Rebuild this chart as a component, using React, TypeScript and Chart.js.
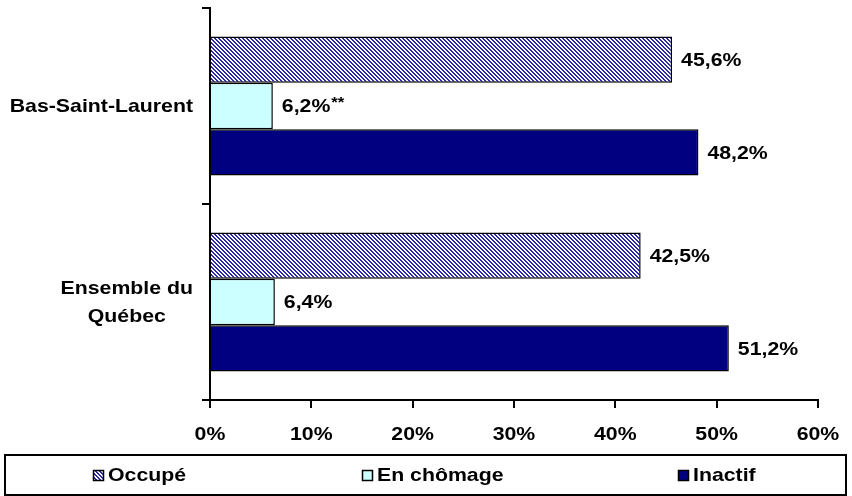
import React, { useEffect, useRef } from "react";
import { Chart, registerables } from "chart.js";

Chart.register(...registerables);

// ---- data ----
const categoryLines: string[][] = [["Bas-Saint-Laurent"], ["Ensemble du", "Québec"]];
const categories = ["Bas-Saint-Laurent", "Ensemble du Québec"];
const seriesNames = ["Occupé", "En chômage", "Inactif"];
const occupe = [45.6, 42.5];
const chomage = [6.2, 6.4];
const inactif = [48.2, 51.2];
const chomageNotes = ["**", ""];
const xTickValues = [0, 10, 20, 30, 40, 50, 60];

const FONT_FAMILY = '"Liberation Sans", Arial, sans-serif';
const SX = 1.12;

function makePattern(): CanvasPattern | string {
  const c = document.createElement("canvas");
  c.width = 4;
  c.height = 4;
  const g = c.getContext("2d");
  if (!g) return "#5555bb";
  g.fillStyle = "#ffffff";
  g.fillRect(0, 0, 4, 4);
  g.fillStyle = "#2a2aa8";
  for (let y = 0; y < 4; y++) {
    for (let x = 0; x < 4; x++) {
      if ((x - y + 8) % 4 < 2) g.fillRect(x, y, 1, 1);
    }
  }
  const p = g.createPattern(c, "repeat");
  return p || "#5555bb";
}

function drawText(
  ctx: CanvasRenderingContext2D,
  text: string,
  x: number,
  y: number,
  align: CanvasTextAlign,
  size = 19
) {
  ctx.save();
  ctx.font = `bold ${size}px ${FONT_FAMILY}`;
  ctx.fillStyle = "#000";
  ctx.textBaseline = "middle";
  ctx.textAlign = align;
  ctx.translate(x, y);
  ctx.scale(SX, 1);
  ctx.fillText(text, 0, 0);
  ctx.restore();
}

function textWidth(ctx: CanvasRenderingContext2D, text: string, size = 19) {
  ctx.save();
  ctx.font = `bold ${size}px ${FONT_FAMILY}`;
  const w = ctx.measureText(text).width * SX;
  ctx.restore();
  return w;
}

const fmt = (v: number) => v.toFixed(1).replace(".", ",") + "%";

export default function App() {
  const ref = useRef<HTMLCanvasElement | null>(null);

  useEffect(() => {
    if (!ref.current) return;
    const pattern = makePattern();
    const colors: any[] = [pattern, "#ccffff", "#000080"];

    const overlay = {
      id: "overlay",
      afterDraw(chart: any) {
        const ctx: CanvasRenderingContext2D = chart.ctx;
        const xs = chart.scales.x;
        const ys = chart.scales.y;
        // value labels
        chart.data.datasets.forEach((ds: any, di: number) => {
          const meta = chart.getDatasetMeta(di);
          meta.data.forEach((bar: any, i: number) => {
            const v = ds.data[i];
            const t = fmt(v);
            const x0 = bar.x + 9;
            drawText(ctx, t, x0, bar.y + 1, "left");
            if (di === 1 && chomageNotes[i]) {
              const w = textWidth(ctx, t);
              drawText(ctx, chomageNotes[i], x0 + w + 1, bar.y - 3, "left", 15);
            }
          });
        });
        // category labels
        categoryLines.forEach((lines, i) => {
          const cy = ys.getPixelForValue(i);
          const maxW = Math.max(...lines.map((l) => textWidth(ctx, l)));
          const cx = 193 - maxW / 2;
          const lh = 28;
          lines.forEach((l, k) => {
            const y = cy + (k - (lines.length - 1) / 2) * lh + 1;
            drawText(ctx, l, cx, y, "center");
          });
        });
        // x tick labels
        xTickValues.forEach((v) => {
          drawText(ctx, v + "%", xs.getPixelForValue(v), 435, "center");
        });
        // legend
        ctx.save();
        ctx.strokeStyle = "#000";
        ctx.lineWidth = 2;
        ctx.strokeRect(5, 455, 841, 40);
        const mx = [93, 362, 678];
        seriesNames.forEach((name, k) => {
          ctx.fillStyle = colors[k];
          ctx.fillRect(mx[k], 470, 11, 11);
          ctx.lineWidth = 1.5;
          ctx.strokeRect(mx[k] + 0.5, 470.5, 10, 10);
          drawText(ctx, name, mx[k] + 15, 476, "left");
        });
        ctx.restore();
      },
    };

    const chart = new Chart(ref.current, {
      type: "bar",
      data: {
        labels: categories,
        datasets: [occupe, chomage, inactif].map((d, k) => ({
          label: seriesNames[k],
          data: d,
          backgroundColor: colors[k],
          borderColor: "#000",
          borderWidth: 1.5,
          categoryPercentage: 0.71,
          barPercentage: 1,
        })),
      },
      options: {
        indexAxis: "y",
        animation: false,
        responsive: true,
        maintainAspectRatio: false,
        layout: { padding: { top: 8, right: 34, left: 0, bottom: 0 } },
        plugins: { legend: { display: false }, tooltip: { enabled: false } },
        scales: {
          x: {
            min: 0,
            max: 60,
            ticks: { stepSize: 10, display: false },
            grid: {
              drawOnChartArea: false,
              drawTicks: true,
              tickLength: 8,
              color: "#000",
              lineWidth: 2,
            },
            border: { color: "#000", width: 2 },
            afterFit: (s: any) => {
              s.height = 96;
            },
          },
          y: {
            ticks: { display: false },
            grid: {
              offset: true,
              drawOnChartArea: false,
              drawTicks: true,
              tickLength: 8,
              color: "#000",
              lineWidth: 2,
            },
            border: { color: "#000", width: 2 },
            afterFit: (s: any) => {
              s.width = 210;
            },
          },
        },
      } as any,
      plugins: [overlay],
    });
    return () => chart.destroy();
  }, []);

  return (
    <div style={{ position: "absolute", left: 0, top: 0, width: 852, height: 496, background: "#fff" }}>
      <canvas ref={ref} />
    </div>
  );
}
